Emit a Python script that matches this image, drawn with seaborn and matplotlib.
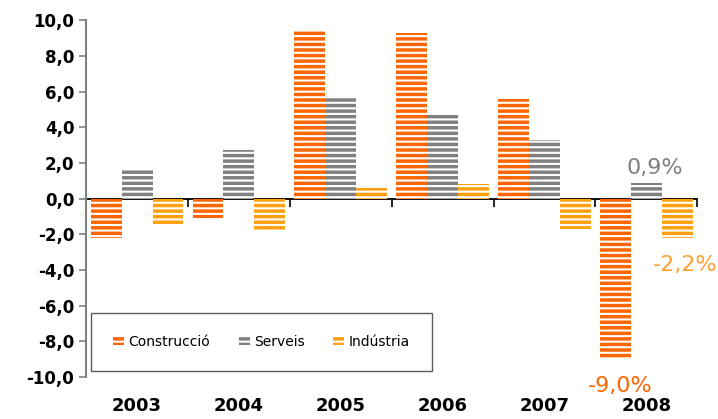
import numpy as np
import pandas as pd
import seaborn as sns
import matplotlib.pyplot as plt
from matplotlib.patches import Patch
from matplotlib.ticker import FuncFormatter

years = ['2003', '2004', '2005', '2006', '2007', '2008']
sectors = ['Construcció', 'Serveis', 'Indústria']
construccio = [-2.2, -1.1, 9.4, 9.3, 5.6, -9.0]
serveis = [1.6, 2.7, 5.7, 4.7, 3.3, 0.9]
industria = [-1.4, -1.8, 0.6, 0.8, -1.7, -2.2]
colors = ['#FF6600', '#808080', '#FFA010']

df = pd.DataFrame({
    'year': years * 3,
    'sector': [s for s in sectors for _ in years],
    'value': construccio + serveis + industria,
})

plt.rcParams['font.family'] = ['DejaVu Sans']
plt.rcParams['hatch.linewidth'] = 1.5

fig = plt.figure(figsize=(7.18, 4.19), dpi=100)
ax = fig.add_axes([0.12, 0.100, 0.851, 0.852])

sns.barplot(data=df, x='year', y='value', hue='sector', palette=colors,
            width=0.91, gap=0, ax=ax, legend=False, saturation=1)

for cont in ax.containers:
    for p in cont:
        p.set_edgecolor('white')
        p.set_hatch('---')
        p.set_linewidth(0)

ax.set_xlim(-0.5, 5.5)
ax.set_ylim(-10, 10)
ax.set_yticks(np.arange(-10, 11, 2))
ax.yaxis.set_major_formatter(FuncFormatter(lambda v, _: f'{v:.1f}'.replace('.', ',')))
ax.tick_params(axis='y', length=5, color='#808080', width=1.2, labelsize=12)
for lab in ax.get_yticklabels():
    lab.set_fontweight('bold')
ax.tick_params(axis='x', length=0, pad=14, labelsize=13)
for lab in ax.get_xticklabels():
    lab.set_fontweight('bold')
ax.set_xlabel('')
ax.set_ylabel('')
for s in ['top', 'right', 'bottom']:
    ax.spines[s].set_visible(False)
ax.spines['left'].set_color('#808080')
ax.spines['left'].set_linewidth(1.5)

# zero line with group-boundary ticks pointing down
sec = ax.secondary_xaxis(0.5)
sec.set_xticks(np.arange(-0.5, 6, 1))
sec.set_xticklabels([])
sec.tick_params(axis='x', direction='in', length=6, width=1.2, color='black')
for s in sec.spines.values():
    s.set_color('black')
    s.set_linewidth(1.3)

# value labels for 2008
ax.annotate('0,9%', xy=(5.0, serveis[5]), xytext=(6, 3), textcoords='offset points',
            ha='center', va='bottom', fontsize=16, color='#808080')
ax.annotate('-9,0%', xy=(4.7, construccio[5]), xytext=(3, -12), textcoords='offset points',
            ha='center', va='top', fontsize=16, color='#FF6600')
ax.annotate('-2,2%', xy=(5.3, industria[5]), xytext=(6, -12), textcoords='offset points',
            ha='center', va='top', fontsize=16, color='#FFA033')

handles = [Patch(facecolor=c, edgecolor='white', hatch='---', linewidth=0) for c in colors]
leg = ax.legend(handles, sectors, loc='lower left', bbox_to_anchor=(0.008, 0.017, 0.558, 0.165),
                mode='expand', ncol=3, fontsize=10, frameon=True, fancybox=False,
                handlelength=0.8, handleheight=0.6, handletextpad=0.3, borderpad=1.6,
                borderaxespad=0)
leg.get_frame().set_edgecolor('#333333')
leg.get_frame().set_linewidth(1.0)

fig.savefig('out.png', dpi=100)
